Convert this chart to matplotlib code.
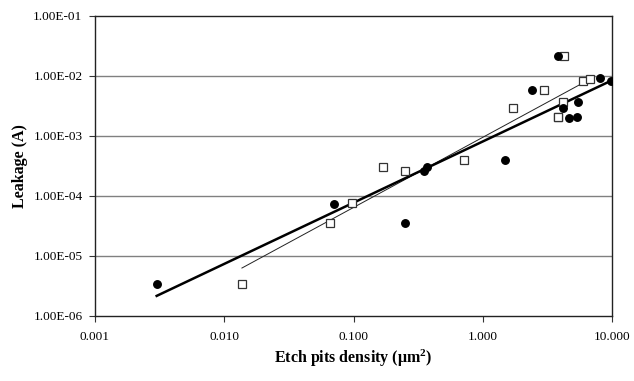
import numpy as np
import matplotlib
matplotlib.use("Agg")
import matplotlib.pyplot as plt

# ─── données ────────────────────────────────────────────────────────────────
circle_x = [0.0030, 0.071, 0.25, 0.35, 0.37, 1.49, 2.40, 3.82, 4.2,
            4.65, 5.36, 5.46, 8.07, 9.82]
circle_y = [3.4e-6, 7.4e-5, 3.5e-5, 2.6e-4, 3.1e-4, 4.0e-4, 5.8e-3, 2.16e-2,
            2.9e-3, 2.0e-3, 2.07e-3, 3.7e-3, 9.2e-3, 8.3e-3]

square_x = [0.0137, 0.0657, 0.098, 0.169, 0.25, 0.716, 1.71, 2.98, 3.82,
            3.85, 4.18, 4.25, 5.97, 6.76]
square_y = [3.4e-6, 3.5e-5, 7.6e-5, 3.1e-4, 2.6e-4, 4.0e-4, 2.9e-3, 5.8e-3,
            2.07e-3, 2.1e-3, 3.7e-3, 2.16e-2, 8.3e-3, 8.9e-3]

# courbes de tendance (y = a * x^b)
fit_circles = (8.1e-4, 1.02)
fit_squares = (9.5e-4, 1.169)

xticks = [0.001, 0.01, 0.1, 1, 10]
xtick_labels = ["0.001", "0.010", "0.100", "1.000", "10.000"]
yticks = [1e-6, 1e-5, 1e-4, 1e-3, 1e-2, 1e-1]
ytick_labels = ["1.00E-06", "1.00E-05", "1.00E-04", "1.00E-03", "1.00E-02", "1.00E-01"]

plt.rcParams["font.family"] = ["Liberation Serif", "DejaVu Serif"]

fig = plt.figure(figsize=(6.34, 3.81), dpi=100)
ax = fig.add_axes([95 / 634, 1 - 316 / 381, (612 - 95) / 634, (316 - 16) / 381])

ax.set_xscale("log")
ax.set_yscale("log")
ax.set_xlim(0.001, 10)
ax.set_ylim(1e-6, 1e-1)

for yv in yticks[1:-1]:
    ax.axhline(yv, color="#808080", lw=1.0, zorder=0)


def trend(ax, xs, fit, **kw):
    a, b = fit
    xx = np.array([min(xs), max(xs)])
    ax.plot(xx, a * xx ** b, **kw)


trend(ax, square_x, fit_squares, color="#222222", lw=0.7, zorder=2)
trend(ax, circle_x, fit_circles, color="black", lw=1.8, zorder=3)

ax.plot(square_x, square_y, ls="none", marker="s", ms=5.4, mfc="white",
        mec="#333333", mew=0.9, zorder=4)
ax.plot(circle_x, circle_y, ls="none", marker="o", ms=5.4, mfc="black",
        mec="black", zorder=5)

ax.set_xticks(xticks)
ax.set_xticklabels(xtick_labels)
ax.set_yticks(yticks)
ax.set_yticklabels(ytick_labels)
ax.minorticks_off()
ax.tick_params(axis="both", direction="out", length=4, width=0.8,
               labelsize=9.5, color="#333333")
ax.tick_params(axis="x", pad=7)
ax.tick_params(axis="y", pad=5)
for sp in ax.spines.values():
    sp.set_linewidth(1.0)
    sp.set_color("#222222")

ax.set_xlabel(r"Etch pits density ($\mathregular{\mu m^2}$)", fontsize=11.5,
              fontweight="bold", labelpad=3)
ax.set_ylabel("Leakage (A)", fontsize=11.5, fontweight="bold", labelpad=4)

fig.savefig("out.png", dpi=100)
